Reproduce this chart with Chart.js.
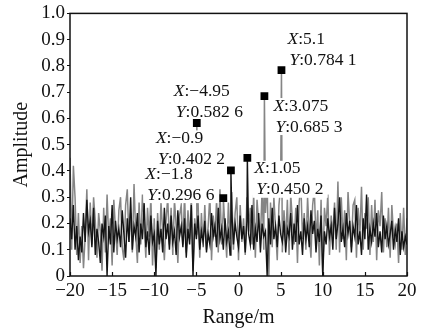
<!DOCTYPE html>
<html>
<head>
<meta charset="utf-8">
<script src="https://cdn.jsdelivr.net/npm/chart.js@4.4.1/dist/chart.umd.min.js"></script>
<style>
  html, body { margin: 0; padding: 0; background: #fff; }
  #wrap { width: 426px; height: 329px; }
</style>
</head>
<body>
<div id="wrap"><canvas id="c" width="426" height="329"></canvas></div>
<script>
// range axis of the noise traces: -20 m .. 20 m, one sample every 0.2 m
const X_START = -20;
const X_STEP = 0.2;

// grey trace (2 m per row)
const grayNoise = [
  0.45, 0.10, 0.42, 0.30, 0.08, 0.24, 0.05, 0.19, 0.03, 0.15,
  0.33, 0.06, 0.28, 0.12, 0.30, 0.21, 0.07, 0.24, 0.17, 0.02,
  0.26, 0.09, 0.31, 0.14, 0.22, 0.04, 0.29, 0.18, 0.08, 0.25,
  0.30, 0.11, 0.06, 0.27, 0.33, 0.13, 0.24, 0.09, 0.35, 0.16,
  0.05, 0.28, 0.12, 0.31, 0.20, 0.07, 0.26, 0.15, 0.30, 0.04,
  0.22, 0.03, 0.24, 0.10, 0.28, 0.17, 0.06, 0.21, 0.30, 0.12,
  0.26, 0.08, 0.29, 0.19, 0.05, 0.23, 0.27, 0.12, 0.31, 0.09,
  0.25, 0.14, 0.30, 0.02, 0.22, 0.16, 0.28, 0.07, 0.24, 0.11,
  0.27, 0.10, 0.19, 0.31, 0.06, 0.23, 0.15, 0.29, 0.09, 0.33,
  0.12, 0.25, 0.18, 0.07, 0.28, 0.14, 0.32, 0.10, 0.24, 0.30,
  0.06, 0.27, 0.13, 0.22, 0.08, 0.30, 0.17, 0.26, 0.12, 0.31,
  0.07, 0.29, 0.20, 0.14, 0.33, 0.10, 0.24, 0.36, 0.00, 0.28,
  0.11, 0.30, 0.18, 0.06, 0.27, 0.34, 0.09, 0.25, 0.13, 0.29,
  0.08, 0.31, 0.21, 0.12, 0.26, 0.05, 0.28, 0.35, 0.14, 0.24,
  0.10, 0.30, 0.16, 0.07, 0.27, 0.33, 0.13, 0.25, 0.04, 0.29,
  0.01, 0.26, 0.19, 0.31, 0.08, 0.23, 0.15, 0.28, 0.10, 0.36,
  0.09, 0.30, 0.14, 0.25, 0.06, 0.32, 0.20, 0.11, 0.27, 0.29,
  0.07, 0.26, 0.15, 0.34, 0.10, 0.24, 0.18, 0.30, 0.08, 0.27,
  0.13, 0.29, 0.06, 0.25, 0.19, 0.32, 0.09, 0.22, 0.11, 0.26,
  0.07, 0.27, 0.16, 0.12, 0.20, 0.05, 0.24, 0.10, 0.26, 0.08,
  0.22
];

// black trace
const blackNoise = [
  0.22, 0.14, 0.27, 0.10, 0.19, 0.06, 0.15, 0.09, 0.24, 0.13,
  0.29, 0.17, 0.21, 0.11, 0.26, 0.08, 0.18, 0.13, 0.05, 0.20,
  0.15, 0.23, 0.00, 0.19, 0.12, 0.27, 0.09, 0.21, 0.14, 0.18,
  0.11, 0.25, 0.16, 0.07, 0.22, 0.13, 0.30, 0.10, 0.19, 0.15,
  0.24, 0.09, 0.20, 0.14, 0.28, 0.11, 0.17, 0.08, 0.23, 0.13,
  0.16, 0.00, 0.21, 0.12, 0.18, 0.09, 0.26, 0.14, 0.20, 0.10,
  0.23, 0.13, 0.17, 0.08, 0.25, 0.15, 0.19, 0.11, 0.22, 0.07,
  0.18, 0.12, 0.27, 0.00, 0.20, 0.14, 0.23, 0.10, 0.17, 0.13,
  0.21, 0.09, 0.16, 0.12, 0.24, 0.15, 0.19, 0.11, 0.26, 0.14,
  0.18, 0.10, 0.22, 0.13, 0.17, 0.08, 0.25, 0.12, 0.20, 0.15,
  0.11, 0.23, 0.14, 0.19, 0.09, 0.21, 0.16, 0.12, 0.27, 0.10,
  0.18, 0.13, 0.24, 0.09, 0.20, 0.15, 0.17, 0.00, 0.22, 0.12,
  0.26, 0.14, 0.19, 0.11, 0.23, 0.16, 0.13, 0.21, 0.09, 0.18,
  0.15, 0.24, 0.10, 0.20, 0.13, 0.27, 0.12, 0.17, 0.08, 0.22,
  0.14, 0.19, 0.11, 0.25, 0.16, 0.21, 0.09, 0.18, 0.13, 0.23,
  0.00, 0.17, 0.12, 0.22, 0.15, 0.19, 0.10, 0.26, 0.14, 0.20,
  0.30, 0.13, 0.18, 0.11, 0.24, 0.16, 0.21, 0.09, 0.19, 0.15,
  0.27, 0.12, 0.17, 0.08, 0.22, 0.14, 0.31, 0.10, 0.18, 0.13,
  0.20, 0.15, 0.24, 0.11, 0.17, 0.09, 0.23, 0.14, 0.19, 0.12,
  0.16, 0.21, 0.10, 0.18, 0.13, 0.22, 0.08, 0.17, 0.11, 0.15,
  0.12
];

// marked peaks (data tips)
const peakX = [-4.95, -1.8, -0.9, 1.05, 3.075, 5.1];
const peakY = [0.5826, 0.2966, 0.4022, 0.4502, 0.6853, 0.7841];
const peakTrace = ['gray', 'gray', 'black', 'black', 'gray', 'gray'];

// where each data tip text sits, pixels from its marker (left edge, middle of first line)
const tipOffset = [[-23, -32], [-78, -24], [-75, -32], [7, 11], [9, 10], [6, -31]];

const FONT = '"Liberation Serif", "Times New Roman", serif';
const GRAY = '#858585';
const BLACK = '#141414';
const TIP_SIZE = 17.5;

function buildTrace(noise, which) {
  const pts = noise.map((v, i) => ({ x: +(X_START + i * X_STEP).toFixed(2), y: v }));
  peakX.forEach((px, i) => {
    if (peakTrace[i] === which) pts.push({ x: px, y: peakY[i] });
  });
  return pts.sort((a, b) => a.x - b.x);
}

const minus = s => String(s).replace('-', '\u2212');
const fmtX = v => minus(v);
const fmtY = v => { const s = v.toFixed(4); return s.slice(0, 5) + ' ' + s.slice(5); };

function drawTipLine(ctx, x, y, letter, rest) {
  ctx.font = 'italic ' + TIP_SIZE + 'px ' + FONT;
  ctx.fillText(letter, x, y);
  const w = ctx.measureText(letter).width;
  ctx.font = TIP_SIZE + 'px ' + FONT;
  ctx.fillText(rest, x + w, y);
}

const tipsPlugin = {
  id: 'tips',
  afterDatasetDraw(chart, args) {
    if (args.index !== 1) return;
    const ctx = chart.ctx;
    const xs = chart.scales.x, ys = chart.scales.y;
    const tips = peakX.map((px, i) => {
      const mx = xs.getPixelForValue(px);
      const my = ys.getPixelForValue(peakY[i]);
      return {
        x: mx + tipOffset[i][0], y: my + tipOffset[i][1],
        l1: ['X', ':' + fmtX(px)], l2: ['Y', ':' + fmtY(peakY[i])]
      };
    });
    ctx.save();
    ctx.textBaseline = 'middle';
    ctx.textAlign = 'left';
    ctx.font = TIP_SIZE + 'px ' + FONT;
    ctx.fillStyle = '#fff';
    tips.forEach(t => {
      const w = Math.max(ctx.measureText(t.l1.join('')).width, ctx.measureText(t.l2.join('')).width + 2);
      ctx.fillRect(t.x - 2, t.y - 8, w + 5, 37);
    });
    ctx.fillStyle = '#111';
    tips.forEach(t => {
      drawTipLine(ctx, t.x, t.y, t.l1[0], t.l1[1]);
      drawTipLine(ctx, t.x + 2, t.y + 21, t.l2[0], t.l2[1]);
    });
    ctx.restore();
  },
  afterDraw(chart) {
    const { ctx, chartArea: a } = chart;
    const xs = chart.scales.x;
    ctx.save();
    ctx.strokeStyle = '#111';
    ctx.lineWidth = 1.5;
    ctx.strokeRect(a.left, a.top, a.right - a.left, a.bottom - a.top);
    ctx.lineWidth = 1.2;
    xs.ticks.forEach(t => {
      const p = Math.round(xs.getPixelForValue(t.value)) + 0.5;
      ctx.beginPath();
      ctx.moveTo(p, a.bottom);
      ctx.lineTo(p, a.bottom - 4);
      ctx.stroke();
    });
    ctx.restore();
  }
};

new Chart(document.getElementById('c'), {
  type: 'line',
  data: {
    datasets: [
      {
        data: buildTrace(grayNoise, 'gray'),
        borderColor: GRAY, borderWidth: 1.5, pointRadius: 0, order: 3
      },
      {
        data: buildTrace(blackNoise, 'black'),
        borderColor: BLACK, borderWidth: 1.4, pointRadius: 0, order: 2
      },
      {
        type: 'scatter',
        data: peakX.map((x, i) => ({ x, y: peakY[i] })),
        showLine: false, pointStyle: 'rect', pointRadius: 5.5,
        backgroundColor: '#000', borderWidth: 0, order: 1
      }
    ]
  },
  options: {
    responsive: false,
    animation: false,
    events: [],
    layout: { padding: { top: 12, right: 19, left: 0, bottom: 0 } },
    plugins: { legend: { display: false }, tooltip: { enabled: false } },
    scales: {
      x: {
        type: 'linear', min: -20, max: 20,
        afterFit: s => { s.height = 53; },
        grid: { drawOnChartArea: false, drawTicks: false },
        border: { display: false },
        ticks: {
          stepSize: 5, padding: 4, color: '#111', maxRotation: 0,
          font: { family: FONT, size: 19 },
          callback: v => minus(v)
        },
        title: { display: true, text: 'Range/m', color: '#111', padding: { top: 0, bottom: -1 }, font: { family: FONT, size: 20 } }
      },
      y: {
        min: 0, max: 1,
        afterFit: s => { s.width = 70; },
        grid: { drawOnChartArea: false, drawTicks: true, tickLength: 3, color: '#111' },
        border: { display: false },
        ticks: {
          stepSize: 0.1, padding: 2, color: '#111',
          font: { family: FONT, size: 19 },
          callback: v => (Math.abs(v) < 1e-9 ? '0' : v.toFixed(1))
        },
        title: { display: true, text: 'Amplitude', color: '#111', padding: { top: 10 }, font: { family: FONT, size: 20 } }
      }
    }
  },
  plugins: [tipsPlugin]
});
</script>
</body>
</html>
